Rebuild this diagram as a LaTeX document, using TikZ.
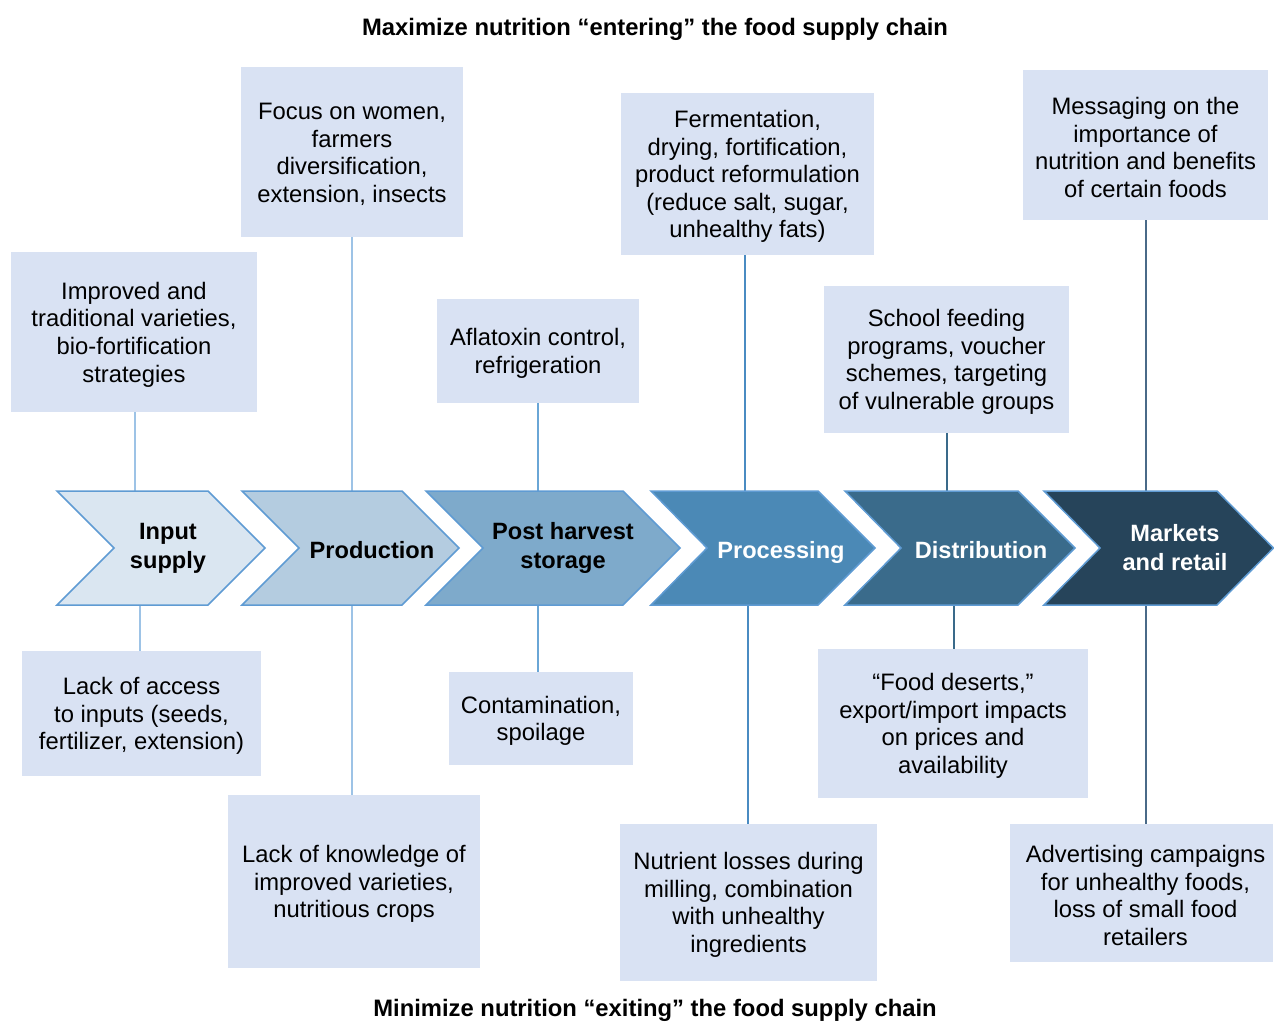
\documentclass[tikz,border=0pt]{standalone}
\usepackage{fontspec}
\setmainfont{Liberation Sans}
\usetikzlibrary{backgrounds}
\definecolor{boxfill}{HTML}{D9E2F3}
\definecolor{cA}{HTML}{DAE6F1}
\definecolor{cB}{HTML}{B4CCE0}
\definecolor{cC}{HTML}{7EAACB}
\definecolor{cD}{HTML}{4B89B6}
\definecolor{cE}{HTML}{3A6B8B}
\definecolor{cF}{HTML}{26445A}
\definecolor{chevborder}{HTML}{5F9BD3}
\definecolor{lA}{HTML}{9DC3E6}
\definecolor{lB}{HTML}{9DC3E6}
\definecolor{lC}{HTML}{6AA6D6}
\definecolor{lD}{HTML}{4A8BC2}
\definecolor{lE}{HTML}{3A6A8A}
\definecolor{lF}{HTML}{4A6A88}
\begin{document}
\begin{tikzpicture}[x=1pt,y=-1pt,
  box/.style={fill=boxfill, draw=none, inner sep=0pt},
  boxtext/.style={align=center, inner sep=0pt, yshift=-2.5pt,
    font=\fontsize{23.8}{27.6}\selectfont, text=black},
  chevlabel/.style={align=center, inner sep=0pt,
    font=\bfseries\fontsize{23.6}{29}\selectfont},
  chevarea/.style={inner sep=0pt, minimum height=114, minimum width=10},
  chev/.style={draw=chevborder, line width=1.5pt, line join=miter},
  conn/.style={line width=1.6pt},
  title/.style={font=\bfseries\fontsize{23.8}{28}\selectfont, inner sep=0pt}
]
\useasboundingbox (0,0) rectangle (1274,1021);

% titles
\node[title] (t1) at (655,29) {Maximize nutrition “entering” the food supply chain};
\node[title] (t2) at (655,1010) {Minimize nutrition “exiting” the food supply chain};

% x positions of connectors
\coordinate (xa1) at (135,0);
\coordinate (xa2) at (352,0);
\coordinate (xa3) at (538,0);
\coordinate (xa4) at (745,0);
\coordinate (xa5) at (947,0);
\coordinate (xa6) at (1146,0);
\coordinate (xb1) at (140,0);
\coordinate (xb2) at (352,0);
\coordinate (xb3) at (538,0);
\coordinate (xb4) at (748,0);
\coordinate (xb5) at (954,0);
\coordinate (xb6) at (1146,0);

% top boxes
\node[box, minimum width=246, minimum height=160] (a1) at (134,332) {};
\node[boxtext] (a1t) at (a1.center)
  {Improved and\\traditional varieties,\\bio-fortification\\strategies};
\node[box, minimum width=222, minimum height=170] (a2) at (352,152) {};
\node[boxtext] (a2t) at (a2.center)
  {Focus on women,\\farmers\\diversification,\\extension, insects};
\node[box, minimum width=202, minimum height=104] (a3) at (538,351) {};
\node[boxtext] (a3t) at (a3.center)
  {Aflatoxin control,\\refrigeration};
\node[box, minimum width=253, minimum height=162] (a4) at (747.5,174) {};
\node[boxtext] (a4t) at (a4.center)
  {Fermentation,\\drying, fortification,\\product reformulation\\(reduce salt, sugar,\\unhealthy fats)};
\node[box, minimum width=245, minimum height=147] (a5) at (946.5,359.5) {};
\node[boxtext] (a5t) at (a5.center)
  {School feeding\\programs, voucher\\schemes, targeting\\of vulnerable groups};
\node[box, minimum width=245, minimum height=150] (a6) at (1145.5,145) {};
\node[boxtext] (a6t) at (a6.center)
  {Messaging on the\\importance of\\nutrition and benefits\\of certain foods};

% bottom boxes
\node[box, minimum width=239, minimum height=125] (b1) at (141.5,713.5) {};
\node[boxtext] (b1t) at (b1.center)
  {Lack of access\\to inputs (seeds,\\fertilizer, extension)};
\node[box, minimum width=252, minimum height=173] (b2) at (354,881.5) {};
\node[boxtext] (b2t) at (b2.center)
  {Lack of knowledge of\\improved varieties,\\nutritious crops};
\node[box, minimum width=184, minimum height=93] (b3) at (541,718.5) {};
\node[boxtext] (b3t) at (b3.center)
  {Contamination,\\spoilage};
\node[box, minimum width=257, minimum height=157] (b4) at (748.5,902.5) {};
\node[boxtext] (b4t) at (b4.center)
  {Nutrient losses during\\milling, combination\\with unhealthy\\ingredients};
\node[box, minimum width=270, minimum height=149] (b5) at (953,723.5) {};
\node[boxtext] (b5t) at (b5.center)
  {“Food deserts,”\\export/import impacts\\on prices and\\availability};
\node[box, minimum width=263, minimum height=138] (b6) at (1141.5,893) {};
\node[boxtext, xshift=4pt] (b6t) at (b6.center)
  {Advertising campaigns\\for unhealthy foods,\\loss of small food\\retailers};

% chevrons
\draw[chev, fill=cA] (57,491) -- (208,491) -- (265,548) -- (208,605) -- (57,605) -- (114,548) -- cycle;
\draw[chev, fill=cB] (242,491) -- (402,491) -- (459,548) -- (402,605) -- (242,605) -- (299,548) -- cycle;
\draw[chev, fill=cC] (426,491) -- (623,491) -- (680,548) -- (623,605) -- (426,605) -- (483,548) -- cycle;
\draw[chev, fill=cD] (651,491) -- (818,491) -- (875,548) -- (818,605) -- (651,605) -- (707,548) -- cycle;
\draw[chev, fill=cE] (845,491) -- (1018,491) -- (1075,548) -- (1018,605) -- (845,605) -- (901,548) -- cycle;
\draw[chev, fill=cF] (1044,491) -- (1217,491) -- (1273.5,548) -- (1217,605) -- (1044,605) -- (1100,548) -- cycle;

% chevron areas (for connectors) and labels
\node[chevarea] (c1) at (168,548) {};
\node[chevarea] (c2) at (372,548) {};
\node[chevarea] (c3) at (563,548) {};
\node[chevarea] (c4) at (781,548) {};
\node[chevarea] (c5) at (981,548) {};
\node[chevarea] (c6) at (1175,548) {};
\node[chevlabel, text=black] (c1t) at (168,548) {Input\\supply};
\node[chevlabel, text=black] (c2t) at (372,550) {Production};
\node[chevlabel, text=black] (c3t) at (563,548) {Post harvest\\storage};
\node[chevlabel, text=white] (c4t) at (781,552) {Processing};
\node[chevlabel, text=white] (c5t) at (981,550) {Distribution};
\node[chevlabel, text=white] (c6t) at (1175,548) {Markets\\and retail};

% connectors
\begin{scope}[on background layer]
\draw[conn, draw=lA] (a1.south -| xa1) -- (c1.north -| xa1);
\draw[conn, draw=lB] (a2.south -| xa2) -- (c2.north -| xa2);
\draw[conn, draw=lC] (a3.south -| xa3) -- (c3.north -| xa3);
\draw[conn, draw=lD] (a4.south -| xa4) -- (c4.north -| xa4);
\draw[conn, draw=lE] (a5.south -| xa5) -- (c5.north -| xa5);
\draw[conn, draw=lF] (a6.south -| xa6) -- (c6.north -| xa6);
\draw[conn, draw=lA] (c1.south -| xb1) -- (b1.north -| xb1);
\draw[conn, draw=lB] (c2.south -| xb2) -- (b2.north -| xb2);
\draw[conn, draw=lC] (c3.south -| xb3) -- (b3.north -| xb3);
\draw[conn, draw=lD] (c4.south -| xb4) -- (b4.north -| xb4);
\draw[conn, draw=lE] (c5.south -| xb5) -- (b5.north -| xb5);
\draw[conn, draw=lF] (c6.south -| xb6) -- (b6.north -| xb6);
\end{scope}
\end{tikzpicture}
\end{document}
